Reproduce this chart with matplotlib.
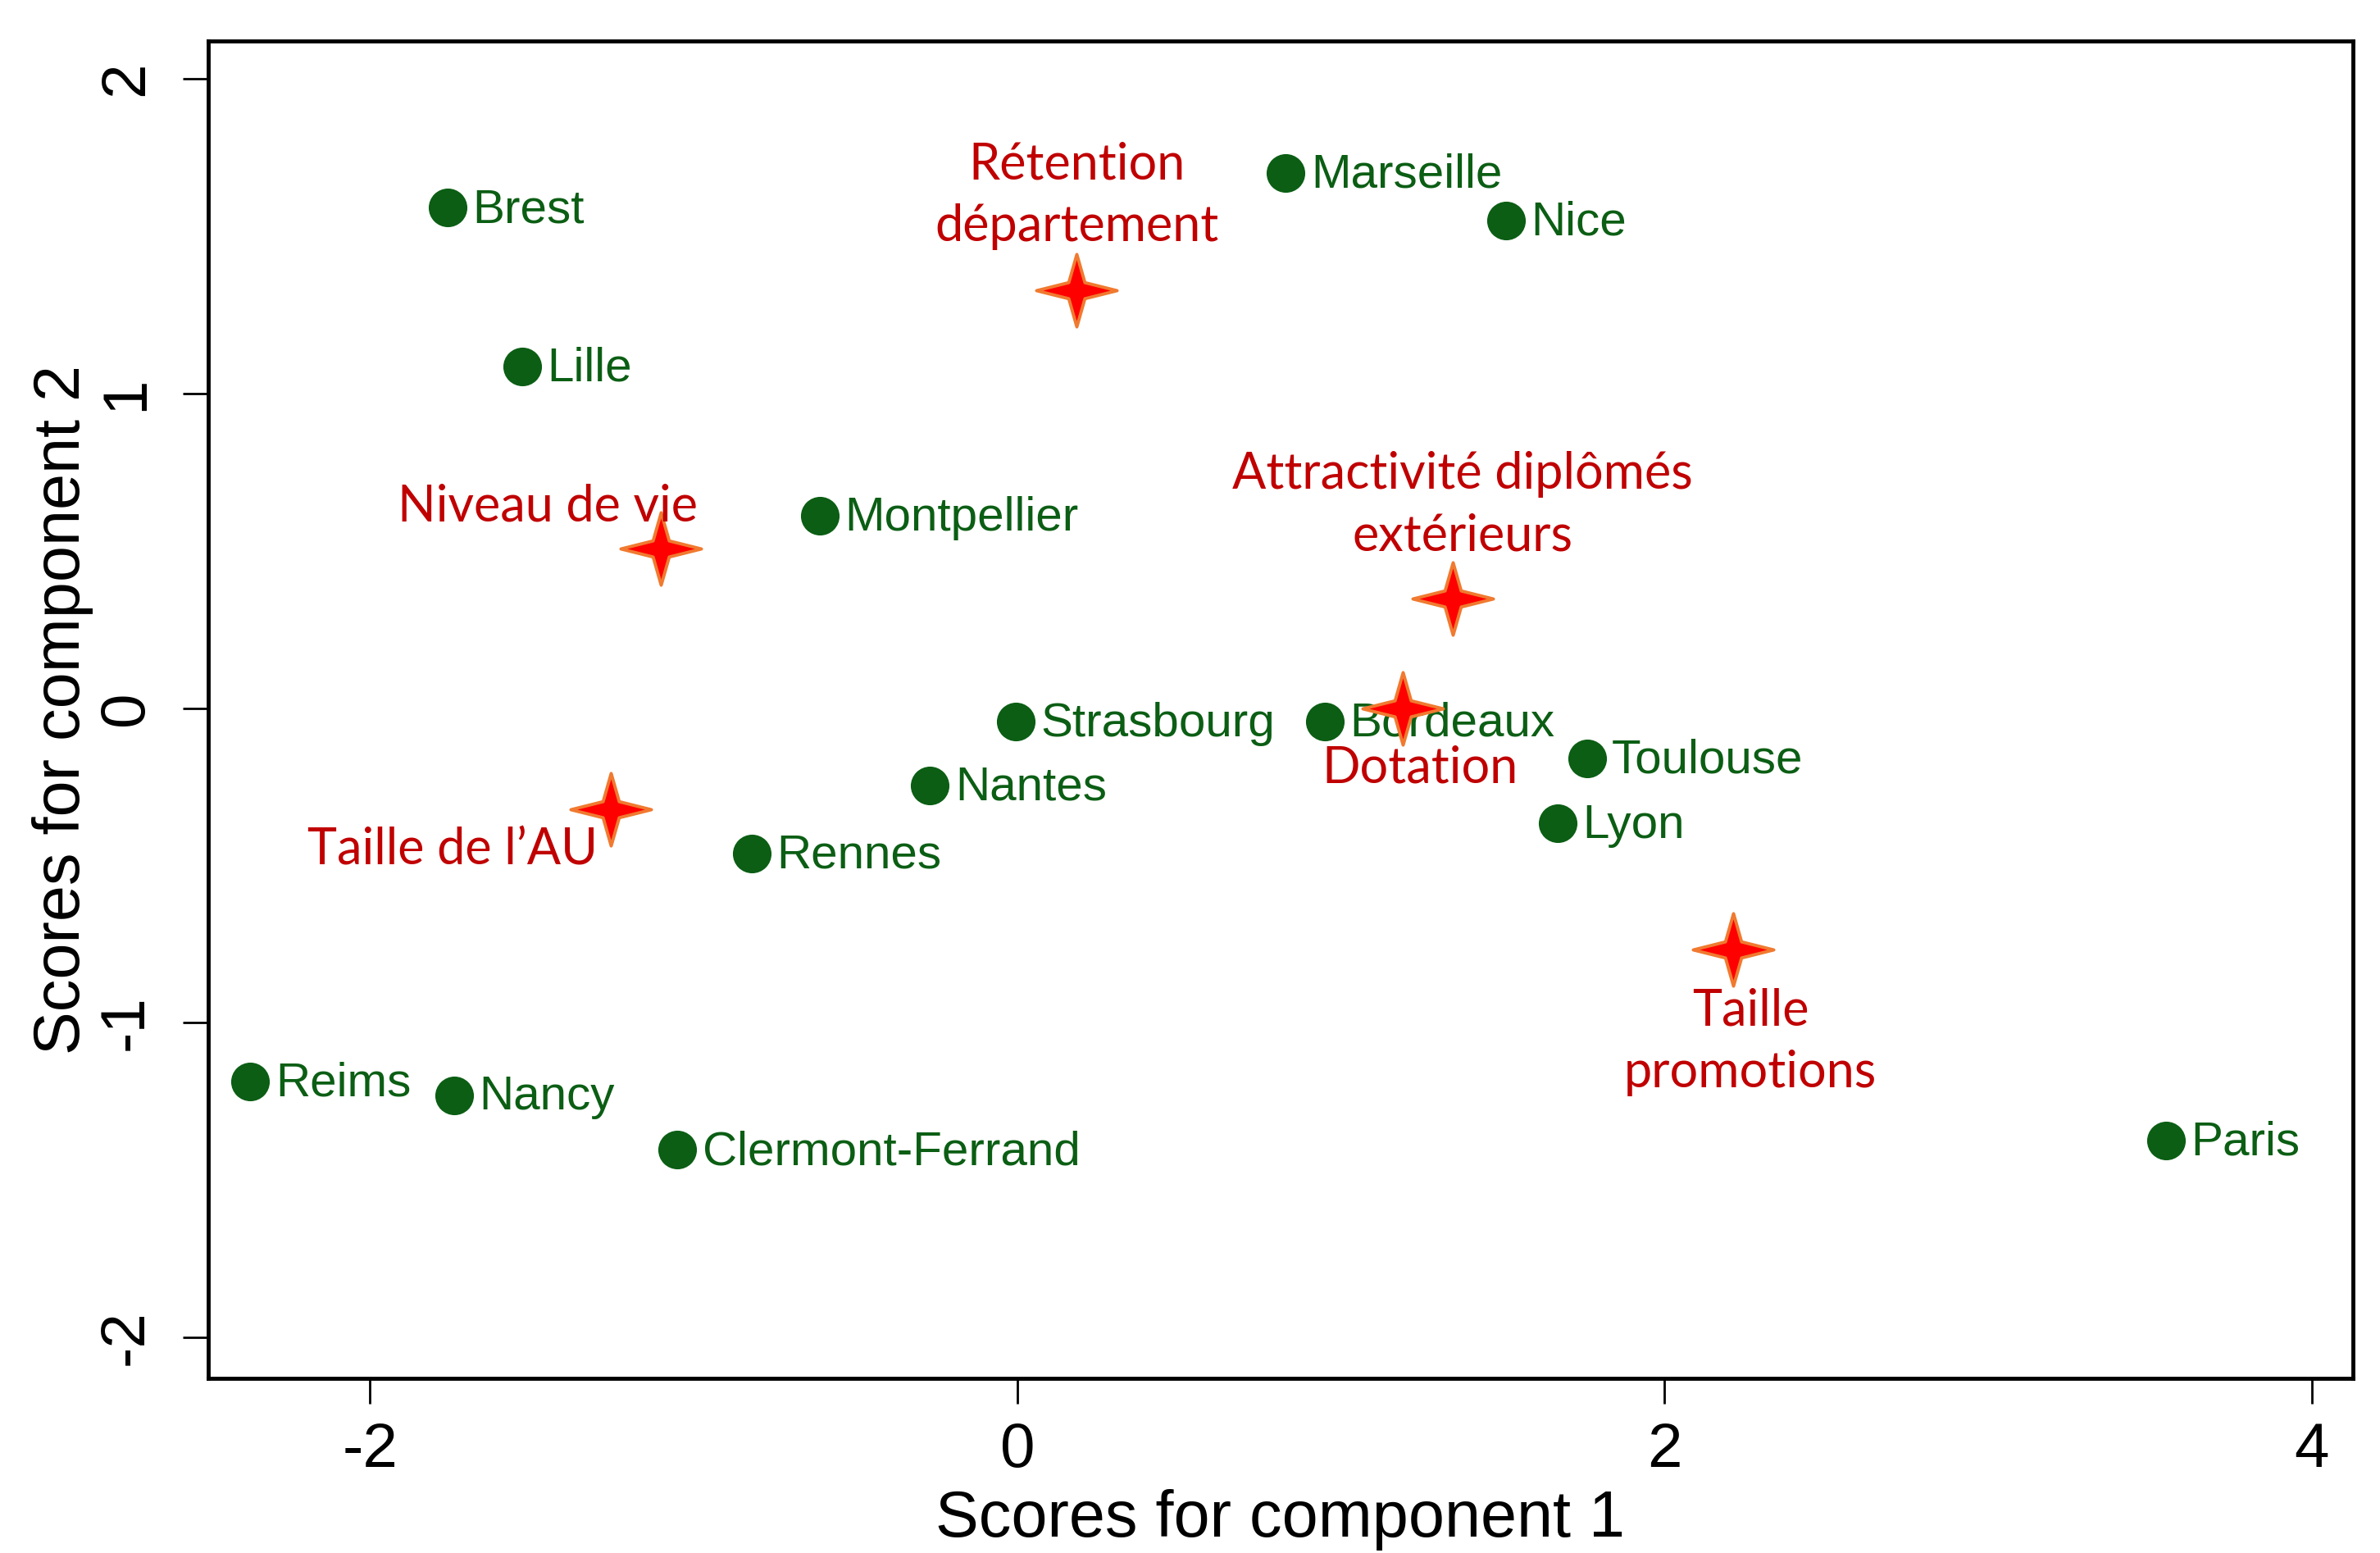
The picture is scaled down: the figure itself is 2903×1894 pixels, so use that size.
import numpy as np
import matplotlib
matplotlib.use("Agg")
import matplotlib.pyplot as plt
from matplotlib.path import Path

# Cities (PCA scores)
cities = ["Brest", "Lille", "Montpellier", "Marseille", "Nice", "Strasbourg",
          "Nantes", "Rennes", "Bordeaux", "Toulouse", "Lyon", "Reims", "Nancy",
          "Clermont-Ferrand", "Paris"]
comp1 = [-1.76, -1.53, -0.61, 0.83, 1.51, -0.005, -0.27, -0.82, 0.95, 1.76,
         1.67, -2.37, -1.74, -1.05, 3.55]
comp2 = [1.59, 1.085, 0.61, 1.70, 1.55, -0.043, -0.246, -0.463, -0.043, -0.159,
         -0.367, -1.187, -1.23, -1.404, -1.375]

# Variables (loadings projected)
variables = ["Rétention\ndépartement", "Niveau de vie",
             "Attractivité diplômés\nextérieurs", "Dotation",
             "Taille de l\u2019AU", "Taille\npromotions"]
var1 = [0.183, -1.102, 1.345, 1.191, -1.256, 2.213]
var2 = [1.327, 0.507, 0.347, 0.0, -0.323, -0.767]
var_offsets = [(0, 83), (-99, 37), (9, 82), (15, -53), (-139, -36), (15, -81)]

green = "#0b5e14"
red_txt = "#c00000"

# 4-pointed star marker
r = 0.2
star = Path([(1, 0), (r, r), (0, 0.9), (-r, r), (-1, 0), (-r, -r), (0, -0.9), (r, -r), (1, 0)],
            [Path.MOVETO] + [Path.LINETO] * 7 + [Path.CLOSEPOLY])

fig = plt.figure(figsize=(29.03, 18.94), dpi=100)
ax = fig.add_axes([0.0875, 0.1125, 0.9011, 0.8611])

ax.scatter(comp1, comp2, s=1150, color=green, zorder=3, linewidths=0)
for name, x, y in zip(cities, comp1, comp2):
    ax.annotate(name, (x, y), xytext=(22, -2), textcoords="offset points",
                va="center", ha="left", fontsize=42, color=green,
                family="Liberation Sans", zorder=4)

ax.scatter(var1, var2, s=5000, marker=star, facecolor="#ff0000",
           edgecolor="#f07a30", linewidths=2.8, zorder=5)
for name, x, y, off in zip(variables, var1, var2, var_offsets):
    ax.annotate(name, (x, y), xytext=off, textcoords="offset points",
                va="center", ha="center", fontsize=44, color=red_txt,
                family="Lato", linespacing=1.4, zorder=6)

ax.set_xlim(-2.5, 4.127)
ax.set_ylim(-2.13, 2.12)
ax.set_xticks([-2, 0, 2, 4])
ax.set_yticks([-2, -1, 0, 1, 2])
ax.set_xticklabels(["-2", "0", "2", "4"], family="Liberation Sans", fontsize=55)
ax.set_yticklabels(["-2", "-1", "0", "1", "2"], family="Liberation Sans",
                   fontsize=55, rotation=90, va="center")
ax.tick_params(axis="both", direction="out", length=22, width=2, color="black")
ax.tick_params(axis="x", pad=16)
ax.tick_params(axis="y", pad=24)
for sp in ax.spines.values():
    sp.set_linewidth(3.5)

ax.set_xlabel("Scores for component 1", family="Liberation Sans", fontsize=57, labelpad=8)
ax.set_ylabel("Scores for component 2", family="Liberation Sans", fontsize=57, labelpad=4)

fig.savefig("out.png", dpi=100)
